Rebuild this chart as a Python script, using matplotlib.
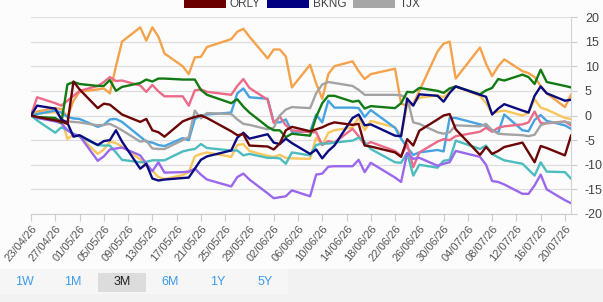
import matplotlib
matplotlib.use("Agg")
import matplotlib.pyplot as plt
import pandas as pd
from matplotlib.patches import Rectangle

plt.rcParams['font.family'] = ['Liberation Sans', 'DejaVu Sans']
plt.rcParams['axes.unicode_minus'] = False

# ---------------- data ----------------
dates = [
    "2026-04-23", "2026-04-24", "2026-04-27", "2026-04-28", "2026-04-29", "2026-04-30", "2026-05-01",
    "2026-05-04", "2026-05-05", "2026-05-06", "2026-05-07", "2026-05-08",
    "2026-05-11", "2026-05-12", "2026-05-13", "2026-05-14", "2026-05-15",
    "2026-05-18", "2026-05-19", "2026-05-20", "2026-05-21", "2026-05-22",
    "2026-05-26", "2026-05-27", "2026-05-28", "2026-05-29",
    "2026-06-01", "2026-06-02", "2026-06-03", "2026-06-04", "2026-06-05",
    "2026-06-08", "2026-06-09", "2026-06-10", "2026-06-11", "2026-06-12",
    "2026-06-15", "2026-06-16", "2026-06-17", "2026-06-18",
    "2026-06-22", "2026-06-23", "2026-06-24", "2026-06-25", "2026-06-26",
    "2026-06-29", "2026-06-30", "2026-07-01", "2026-07-02",
    "2026-07-06", "2026-07-07", "2026-07-08", "2026-07-09", "2026-07-10",
    "2026-07-13", "2026-07-14", "2026-07-15", "2026-07-16", "2026-07-17",
    "2026-07-20", "2026-07-21",
]

orange = [0, 0.8, 1.5, 1.3, -0.3, 3.0, 4.8,
          5.3, 5.5, 4.5, 10.0, 15.0,
          17.9, 15.2, 17.9, 16.0, 12.6,
          10.0, 8.4, 11.8, 11.9, 13.9,
          15.5, 17.0, 17.6, 16.0,
          11.6, 13.4, 13.4, 12.0, 5.7,
          10.3, 6.5, 3.4, 8.4, 10.0,
          11.0, 9.0, 7.4, 8.4,
          9.5, 2.4, 2.0, 2.3, 5.0,
          13.0, 14.6, 15.0, 7.5,
          13.8, 10.5, 8.0, 10.0, 11.4,
          9.0, 8.6, 7.8, 6.0, 4.5,
          1.7, 4.2]

green = [0, -0.3, -0.5, -1.5, 6.3, 6.8, 6.4,
         6.0, 6.0, 7.2, 5.0, 5.8,
         6.6, 7.3, 6.9, 7.5, 7.5,
         7.3, 7.3, 7.3, 5.2, 4.2,
         2.5, 3.3, 1.8, 0.6,
         -2.3, -3.0, -3.0, -4.4, -3.7,
         -4.1, -0.3, 2.5, 4.0, 4.0,
         2.8, 3.0, 1.4, 1.9,
         1.5, 2.5, 4.8, 4.7, 5.6,
         5.0, 4.6, 5.5, 5.9,
         4.3, 5.1, 5.6, 7.4, 7.1,
         8.3, 7.8, 6.4, 9.3, 6.8,
         6.0, 5.7]

orly = [0, -0.3, -1.0, -1.2, -1.7, 6.9, 5.3,
        1.5, 2.4, 2.2, 1.2, 0.2,
        -1.3, -0.7, -3.0, -3.4, -4.3,
        -1.2, -0.7, -0.3, 0.0, -0.5,
        -3.2, -4.0, -3.8, -6.1,
        -6.3, -6.9, -5.7, -3.0, -2.3,
        -3.2, -2.8, -2.4, -1.8, -1.4,
        -1.9, -1.7, -6.1, -6.3,
        -7.5, -8.4, -4.8, -6.1, -3.1,
        -0.8, 0.0, 0.3, -2.8,
        -8.0, -6.4, -7.8, -7.2, -6.4,
        -5.5, -7.5, -9.5, -6.2, -6.6,
        -8.1, -4.1]

bkng = [0, 2.0, 1.4, -0.8, -1.5, -4.3, -4.0,
        -6.0, -5.2, -5.0, -3.0, -5.3,
        -10.8, -9.8, -12.8, -13.2, -13.0,
        -12.7, -12.6, -10.8, -9.0, -8.3,
        -7.1, -4.5, -3.5, -4.7,
        -3.8, -5.5, -5.8, -4.7, -5.6,
        -7.8, -6.9, -8.7, -7.2, -6.1,
        -0.5, 0.2, -2.0, -1.8,
        -4.1, -4.2, 3.4, 2.0, 4.3,
        4.0, 2.8, 4.6, 5.9,
        4.2, 3.8, 0.2, 1.4, 2.3,
        1.0, 0.6, 4.0, 5.9, 4.5,
        3.0, 3.2]

tjx = [0, -0.3, -0.7, -1.0, -1.2, -1.3, -1.4,
       -2.0, -1.9, -1.7, -2.3, -3.0,
       -5.3, -5.1, -6.7, -6.8, -6.8,
       -5.0, -4.4, 1.0, -0.6, 0.5,
       0.3, -0.8, -1.7, -1.9,
       -2.8, -2.5, 0.0, 1.2, 1.7,
       1.5, 4.5, 6.3, 6.8, 6.6,
       6.0, 5.2, 4.2, 4.2,
       4.2, 4.1, 3.5, -1.4, -1.7,
       -3.4, -3.7, -3.4, -2.0,
       -2.2, -1.7, -3.0, -3.7, -3.8,
       -4.0, -4.2, -3.9, -2.0, -1.5,
       -1.3, -1.5]

pink = [0, 3.7, 2.5, 2.0, 3.0, 4.0, 5.0,
        6.0, 6.8, 7.8, 7.0, 7.1,
        6.1, 4.8, 6.2, 4.9, 3.9,
        3.9, 2.0, 5.1, 5.3, 4.8,
        4.2, 6.0, 7.4, 5.6,
        3.2, -1.5, -0.2, -2.0, -3.0,
        -3.4, -3.4, -6.0, -5.2, -5.5,
        -2.7, -4.2, -6.0, -5.4,
        -7.2, -8.2, -5.8, -10.5, -7.5,
        -5.3, -4.8, -5.0, -4.2,
        -3.3, -2.5, -3.3, -2.5, -2.2,
        -1.8, -1.4, 0.8, -1.5, -1.6,
        -1.2, -2.0]

lightblue = [0, 0.3, 1.0, 0.6, -0.3, -0.6, -0.7,
             -2.3, -1.9, -0.8, -0.7, -1.3,
             -4.3, -5.3, -5.5, -6.0, -6.2,
             -4.6, -5.0, -0.7, 0.0, 0.2,
             0.6, 4.5, 5.5, 3.7,
             3.4, -1.3, -1.4, -0.8, -3.3,
             -3.3, 0.2, -1.4, 3.0, 1.6,
             1.6, 1.5, -0.3, 1.1,
             -2.5, -4.7, -6.5, -8.0, -7.5,
             -7.0, -7.3, -0.5, -0.5,
             -1.8, -2.1, -3.0, -3.5, 0.2,
             -3.0, -3.2, -0.9, 0.1, -1.1,
             -2.0, -2.7]

yellow = [0, 0.4, 0.7, -0.3, -4.8, -3.8, -4.3,
          -7.8, -6.9, -5.3, -5.6, -6.3,
          -8.9, -10.3, -11.2, -12.5, -12.9,
          -12.1, -11.5, -8.3, -7.8, -7.5,
          -8.4, -6.0, -5.8, -7.2,
          -8.2, -8.4, -8.0, -8.6, -8.7,
          -8.8, -4.5, -6.0, -3.5, -3.0,
          -2.4, -0.4, -3.0, -1.1,
          -2.4, -4.1, 2.3, 2.5, 3.6,
          4.1, 3.7, 4.8, 5.9,
          4.0, 2.5, 0.4, 0.8, 1.0,
          0.0, 0.6, 3.3, 1.6, 1.2,
          -0.5, -0.7]

teal = [0, -1.0, -3.5, -2.4, -3.0, -3.7, -4.3,
        -6.0, -6.1, -6.1, -7.5, -9.0,
        -9.5, -9.4, -9.1, -9.1, -9.1,
        -7.3, -7.0, -6.8, -5.8, -6.6,
        -7.1, -7.1, -8.1, -7.8,
        -8.6, -8.6, -8.7, -9.8, -7.5,
        -8.1, -6.0, -5.7, -5.7, -5.5,
        -5.1, -4.5, -5.4, -6.8,
        -9.5, -9.6, -7.6, -12.2, -10.0,
        -10.6, -9.2, -9.0, -5.1,
        -6.8, -6.1, -7.8, -8.5, -9.1,
        -9.8, -11.0, -12.2, -9.5, -11.4,
        -11.5, -12.8]

purple = [0, -0.5, -1.2, -1.6, -3.0, -3.8, -4.1,
          -9.2, -8.3, -6.9, -6.7, -6.5,
          -8.1, -9.8, -11.3, -9.5, -11.6,
          -11.5, -11.4, -10.8, -12.0, -13.0,
          -14.4, -12.5, -11.8, -13.0,
          -15.8, -16.8, -16.6, -16.4, -15.2,
          -16.4, -12.0, -11.8, -10.4, -10.3,
          -10.3, -9.0, -11.5, -9.6,
          -12.6, -13.5, -7.6, -8.8, -8.6,
          -10.2, -9.8, -9.5, -7.2,
          -8.4, -10.0, -13.3, -13.5, -14.0,
          -15.9, -15.9, -14.2, -12.0, -15.0,
          -17.2, -17.8]

tick_labels = ["23/04/26", "27/04/26", "01/05/26", "05/05/26", "09/05/26", "13/05/26",
               "17/05/26", "21/05/26", "25/05/26", "29/05/26", "02/06/26", "06/06/26",
               "10/06/26", "14/06/26", "18/06/26", "22/06/26", "26/06/26", "30/06/26",
               "04/07/26", "08/07/26", "12/07/26", "16/07/26", "20/07/26"]
y_ticks = [-20, -15, -10, -5, 0, 5, 10, 15, 20]
legend_names = ["ORLY", "BKNG", "TJX"]
buttons = ["1W", "1M", "3M", "6M", "1Y", "5Y"]

# ---------------- figure ----------------
W, H = 603, 302
fig = plt.figure(figsize=(W / 100, H / 100), dpi=100)
fig.patch.set_facecolor('#fcfcfc')

def fx(px):
    return px / W

def fy(py):
    return 1 - py / H

# bottom strip
fig.add_artist(Rectangle((0, 0), 1, fy(269), transform=fig.transFigure,
                         facecolor='#f2f2f2', edgecolor='none', zorder=0))
fig.add_artist(Rectangle((0, fy(294)), fx(288), fy(270) - fy(294), transform=fig.transFigure,
                         facecolor='#f6f6f6', edgecolor='none', zorder=0))
fig.add_artist(Rectangle((fx(98), fy(292)), fx(48), fy(273) - fy(292), transform=fig.transFigure,
                         facecolor='#dcdcdc', edgecolor='none', zorder=1))

ax = fig.add_axes([fx(31), fy(214), fx(571) - fx(31), fy(17) - fy(214)])
ax.set_facecolor('#fcfcfc')

x = pd.to_datetime(dates)
series = [
    (orange, '#f5a24c'),
    (yellow, '#f8c65c'),
    (lightblue, '#45a3e2'),
    (pink, '#ec6a88'),
    (tjx, '#a3a3a3'),
    (teal, '#4cbcbf'),
    (purple, '#9a68ec'),
    (green, '#127a12'),
    (bkng, '#0b0b80'),
    (orly, '#6c0505'),
]
for vals, col in series:
    ax.plot(x, vals, color=col, lw=1.7, solid_joinstyle='round', zorder=3)

ax.set_ylim(-20, 20)
ax.set_xlim(pd.Timestamp('2026-04-23'), pd.Timestamp('2026-07-21'))
ax.set_yticks(y_ticks)
ax.set_yticklabels([str(v) for v in y_ticks])
ax.yaxis.tick_right()
ax.grid(axis='y', color='#dedede', lw=0.9, zorder=1)
ax.grid(axis='x', visible=False)

tick_dates = pd.to_datetime(tick_labels, format='%d/%m/%y')
ax.set_xticks(tick_dates)
ax.set_xticklabels(tick_labels)
for lbl in ax.get_xticklabels():
    lbl.set_rotation(50)
    lbl.set_ha('right')
    lbl.set_va('top')
    lbl.set_rotation_mode('anchor')

ax.tick_params(axis='x', length=5, color='#cccccc', labelsize=8, labelcolor='#555555', pad=2)
ax.tick_params(axis='y', length=4, color='#cccccc', labelsize=9, labelcolor='#444444', pad=6)

for s in ['top', 'left']:
    ax.spines[s].set_visible(False)
ax.spines['right'].set_color('#d4d4d4')
ax.spines['bottom'].set_color('#cccccc')

# legend (cut at top)
leg = [(184, '#6b0000', 230), (267, '#000080', 313), (353, '#a6a6a6', 400)]
for (rx, col, tx), name in zip(leg, legend_names):
    fig.add_artist(Rectangle((fx(rx), fy(8)), fx(42), fy(-6) - fy(8), transform=fig.transFigure,
                             facecolor=col, edgecolor='none', zorder=2))
    fig.text(fx(tx), fy(7), name, fontsize=8.5, color='#444444', va='baseline', ha='left')

# range buttons
bx = [24, 73, 122, 170, 218, 265]
for b, cx in zip(buttons, bx):
    fig.text(fx(cx), fy(282), b, fontsize=9, ha='center', va='center',
             color='#222222' if b == '3M' else '#3d9be9', zorder=3)

fig.savefig('out.png', dpi=100, facecolor=fig.get_facecolor())
